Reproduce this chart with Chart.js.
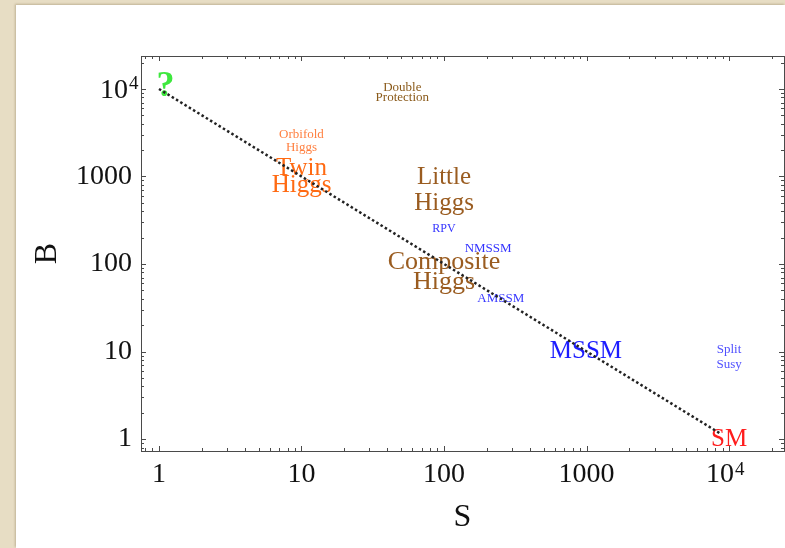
<!DOCTYPE html>
<html>
<head>
<meta charset="utf-8">
<script src="https://cdn.jsdelivr.net/npm/chart.js@4.4.1/dist/chart.umd.min.js"></script>
<style>
  html, body { margin: 0; padding: 0; }
  body { width: 785px; height: 548px; background: #e7ddc4; position: relative; overflow: hidden; }
  #panel {
    position: absolute; left: 16px; top: 5px; width: 769px; height: 543px;
    background: #fff; box-shadow: -1px -1px 2px rgba(120, 100, 60, 0.35);
  }
  canvas { display: block; }
</style>
</head>
<body>
<div id="panel"><canvas id="chart" width="769" height="543"></canvas></div>
<script>
// model labels and where they sit in the (S, B) plane
const modelNames = [
  ["?"], ["Double", "Protection"], ["Orbifold", "Higgs"], ["Twin", "Higgs"],
  ["Little", "Higgs"], ["RPV"], ["NMSSM"], ["Composite", "Higgs"],
  ["AMSSM"], ["MSSM"], ["Split", "Susy"], ["SM"]
];
const sValues = [1.11, 51, 10, 10, 100, 100, 204, 100, 250, 990, 10000, 10000];
const bValues = [10500, 9000, 2550, 1000, 700, 250, 152, 80, 40, 9.9, 8.6, 1];

// dotted reference line B ~ 10^4 / S
const lineS = [1, 8800];
const lineB = [10000, 1.14];

const tickValues = [1, 10, 100, 1000, 10000];
const tickNames = ["1", "10", "100", "1000", "10"];
const tickExponents = ["", "", "", "", "4"];

// styles for each label (same order as modelNames)
const labelColors = ["#3ee83e", "#8a5a1a", "#ff7f3f", "#ff6a12", "#9a5c20", "#3434ff",
  "#3434ff", "#9a5c20", "#3a3aff", "#1c1cff", "#5050ff", "#ff1c1c"];
const labelFonts = ["bold 36px", "13px", "13px", "25px", "25px", "12px",
  "13px", "26px", "13px", "25px", "13px", "25px"];
const labelLeading = [30, 10, 13, 17, 26, 12, 12, 20, 12, 26, 15, 26];

const serif = "'Liberation Serif', 'DejaVu Serif', serif";

const labelPlugin = {
  id: "labels",
  beforeDatasetsDraw(chart) {
    const { ctx, scales } = chart;
    ctx.save();
    ctx.textAlign = "center";
    ctx.textBaseline = "middle";
    modelNames.forEach((lines, i) => {
      const x = scales.x.getPixelForValue(sValues[i]);
      const y = scales.y.getPixelForValue(bValues[i]);
      ctx.fillStyle = labelColors[i];
      ctx.font = labelFonts[i] + " " + serif;
      const lh = labelLeading[i];
      const y0 = y - (lines.length - 1) * lh / 2;
      lines.forEach((t, k) => ctx.fillText(t, x, y0 + k * lh));
    });
    ctx.restore();
  }
};

// frame with inward major/minor ticks on all four sides, plus 10^n tick labels
const framePlugin = {
  id: "frame",
  afterDraw(chart) {
    const { ctx, chartArea: a, scales } = chart;
    ctx.save();
    ctx.strokeStyle = "#4a4a4a";
    ctx.lineWidth = 1;
    ctx.strokeRect(a.left + 0.5, a.top + 0.5, a.right - a.left, a.bottom - a.top);
    ctx.beginPath();
    for (let d = 0.1; d <= 100000; d *= 10) {
      for (let m = 1; m < 10; m++) {
        const v = d * m;
        const len = m === 1 ? 5 : 3;
        const px = Math.round(scales.x.getPixelForValue(v)) + 0.5;
        if (px > a.left + 1 && px < a.right - 1) {
          ctx.moveTo(px, a.bottom); ctx.lineTo(px, a.bottom - len);
          ctx.moveTo(px, a.top); ctx.lineTo(px, a.top + len);
        }
        const py = Math.round(scales.y.getPixelForValue(v)) + 0.5;
        if (py > a.top + 1 && py < a.bottom - 1) {
          ctx.moveTo(a.left, py); ctx.lineTo(a.left + len, py);
          ctx.moveTo(a.right, py); ctx.lineTo(a.right - len, py);
        }
      }
    }
    ctx.stroke();

    // power-of-ten labels with a raised exponent
    ctx.fillStyle = "#111";
    ctx.textBaseline = "middle";
    tickValues.forEach((v, i) => {
      const e = tickExponents[i];
      if (!e) return;
      const px = scales.x.getPixelForValue(v);
      const ly = a.bottom + 7 + 16.8;
      ctx.font = "28px " + serif;
      ctx.textAlign = "right";
      ctx.fillText(tickNames[i], px + 5, ly);
      ctx.font = "19px " + serif;
      ctx.textAlign = "left";
      ctx.fillText(e, px + 6, ly - 5);

      const py = scales.y.getPixelForValue(v);
      ctx.font = "28px " + serif;
      ctx.textAlign = "right";
      ctx.fillText(tickNames[i], a.left - 13, py + 2);
      ctx.font = "19px " + serif;
      ctx.textAlign = "left";
      ctx.fillText(e, a.left - 12, py - 5);
    });
    ctx.restore();
  }
};

const setTicks = (scale) => {
  scale.ticks = tickValues.map((v) => ({ value: v }));
};
const tickLabel = (v) => {
  const i = tickValues.indexOf(v);
  return tickExponents[i] ? "" : tickNames[i];
};

new Chart(document.getElementById("chart"), {
  type: "scatter",
  data: {
    datasets: [{
      data: lineS.map((s, i) => ({ x: s, y: lineB[i] })),
      showLine: true,
      borderColor: "#222",
      borderWidth: 2.5,
      borderDash: [2.5, 2.5],
      pointRadius: 0,
      fill: false
    }]
  },
  options: {
    responsive: false,
    animation: false,
    layout: { padding: { top: 51, right: 1, left: 0, bottom: 0 } },
    plugins: { legend: { display: false }, tooltip: { enabled: false } },
    scales: {
      x: {
        type: "logarithmic",
        bounds: "data",
        min: 0.748, max: 24300,
        afterBuildTicks: setTicks,
        afterFit: (s) => { s.height = 97; },
        grid: { display: false, drawTicks: false },
        border: { display: false },
        ticks: {
          padding: 7, color: "#111", maxRotation: 0, autoSkip: false,
          font: { family: serif, size: 28 },
          callback: tickLabel
        },
        title: {
          display: true, text: "S", color: "#111",
          font: { family: serif, size: 32 },
          padding: { top: 0, bottom: 11 }
        }
      },
      y: {
        type: "logarithmic",
        bounds: "data",
        min: 0.73, max: 23800,
        afterBuildTicks: setTicks,
        afterFit: (s) => { s.width = 125; },
        grid: { display: false, drawTicks: false },
        border: { display: false },
        ticks: {
          padding: 9, color: "#111", autoSkip: false,
          font: { family: serif, size: 28 },
          callback: tickLabel
        },
        title: {
          display: true, text: "B", color: "#111",
          font: { family: serif, size: 32 },
          padding: { top: 12, bottom: 0 }
        }
      }
    }
  },
  plugins: [labelPlugin, framePlugin]
});
</script>
</body>
</html>
